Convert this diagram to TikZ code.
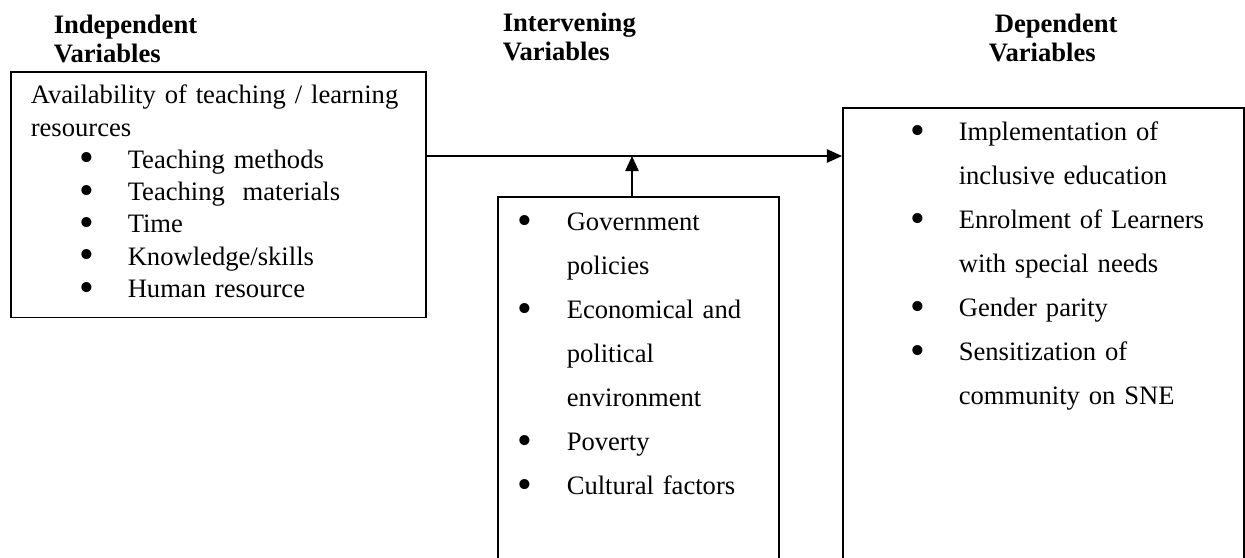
\documentclass[tikz,border=0pt]{standalone}
\usepackage{fontspec}
\setmainfont{Liberation Serif}
\usetikzlibrary{arrows.meta,positioning}
\newlength{\upx}
\setlength{\upx}{0.451pt}
\newcommand{\bul}[1]{\makebox[#1\upx][l]{\hspace*{-1.5\upx}\raisebox{-1.6pt}{\fontsize{19}{19}\selectfont\textbullet}}}

\begin{document}
\begin{tikzpicture}[x=0.451pt,y=-0.451pt,>={Triangle[length=6.8pt,width=6pt]},line width=0.7pt]
\tikzstyle{head}=[font=\bfseries\fontsize{12}{13.5}\selectfont, align=left, inner sep=0pt, anchor=base west]
\tikzstyle{varbox}=[draw, anchor=north west, inner sep=0pt, align=left]
\useasboundingbox (0,0) rectangle (1245,557);

% headings (base = last line)
\node[head] (indephead) at (53,63) {Independent\\Variables};
\node[head] (intervhead) at (502,61) {Intervening\\Variables};
\node[head] (dephead) at (988,62) {\hspace*{6\upx}Dependent\\Variables};

\node[varbox, text width=415\upx, font=\fontsize{12}{14.57}\selectfont] (indep) at (10,71)
 {\noindent\rule{0pt}{32\upx}\hspace*{20\upx}\makebox[373\upx][s]{Availability of teaching / learning}\\
  \hspace*{20\upx}resources\\
  \hspace*{70\upx}\bul{47}Teaching methods\\
  \hspace*{70\upx}\bul{47}Teaching\ \ materials\\
  \hspace*{70\upx}\bul{47}Time\\
  \hspace*{70\upx}\bul{47}Knowledge/skills\\
  \hspace*{70\upx}\bul{47}Human resource\rule[-20\upx]{0pt}{20\upx}};
\node[varbox, text width=281\upx, font=\fontsize{12}{19.84}\selectfont] (interv) at (497,196)
 {\noindent\rule{0pt}{34\upx}\hspace*{21\upx}\bul{48}Government\\
  \hspace*{69\upx}policies\\
  \hspace*{21\upx}\bul{48}Economical and\\
  \hspace*{69\upx}political\\
  \hspace*{69\upx}environment\\
  \hspace*{21\upx}\bul{48}Poverty\\
  \hspace*{21\upx}\bul{48}Cultural factors\rule[-120\upx]{0pt}{120\upx}};
\node[varbox, text width=401\upx, font=\fontsize{12}{19.84}\selectfont] (dep) at (842,107)
 {\noindent\rule{0pt}{33\upx}\hspace*{69\upx}\bul{47}Implementation of\\
  \hspace*{116\upx}inclusive education\\
  \hspace*{69\upx}\bul{47}Enrolment of Learners\\
  \hspace*{116\upx}with special needs\\
  \hspace*{69\upx}\bul{47}Gender parity\\
  \hspace*{69\upx}\bul{47}Sensitization of\\
  \hspace*{116\upx}community on SNE\rule[-220\upx]{0pt}{220\upx}};

\coordinate (jn) at (632,156);
\draw[->] (indep.east |- jn) -- (jn -| dep.west);
\draw[->] (jn |- interv.north) -- (jn);
\end{tikzpicture}
\end{document}
